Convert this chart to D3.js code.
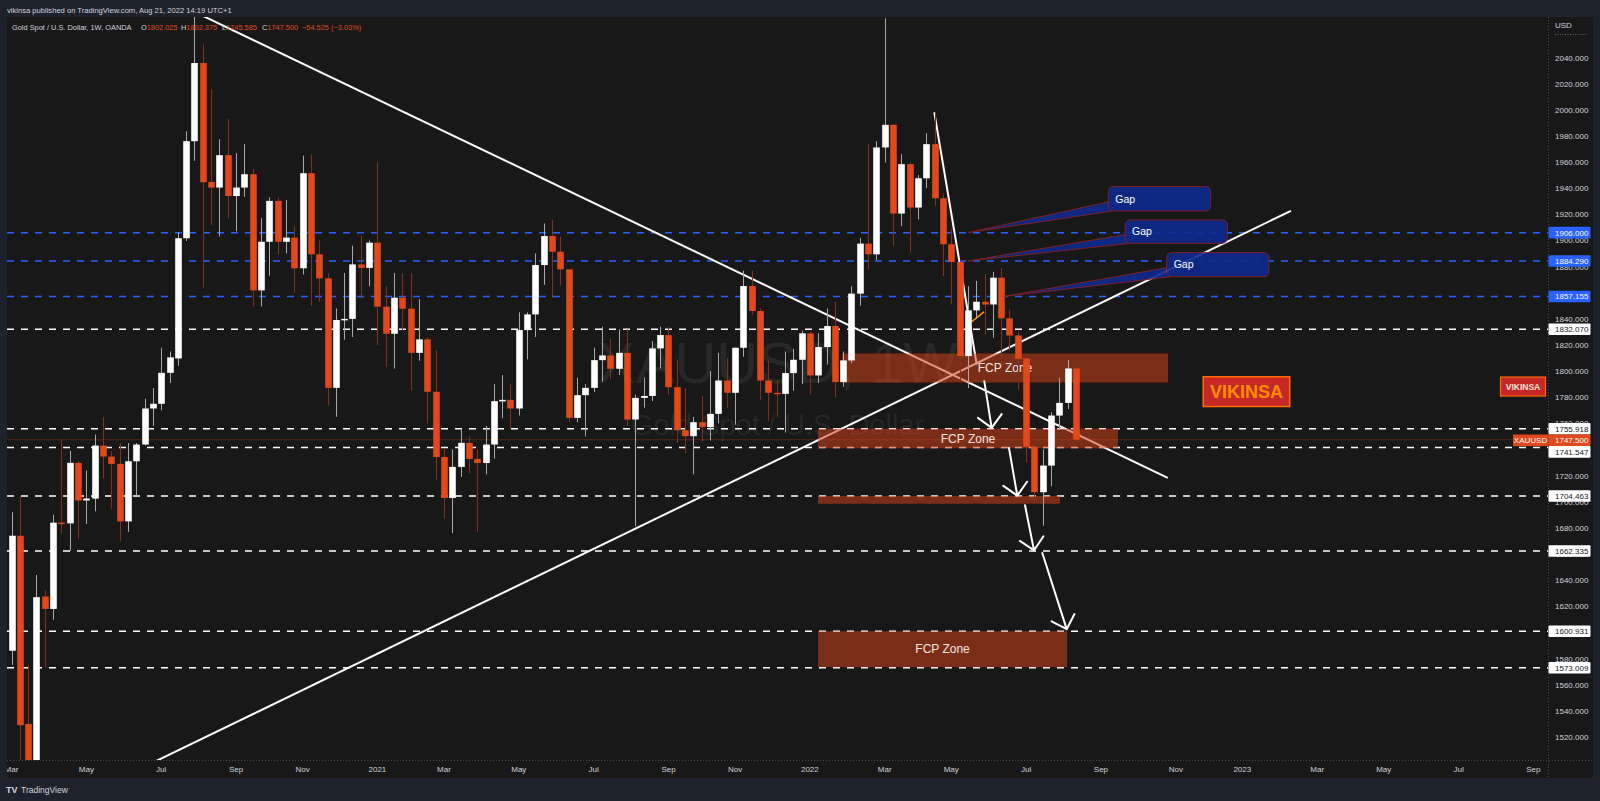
<!DOCTYPE html>
<html><head><meta charset="utf-8">
<script src="https://cdn.jsdelivr.net/npm/d3@7"></script>
<style>
body{margin:0;background:#1e222d;overflow:hidden}
svg{display:block}
text{font-family:"Liberation Sans",Arial,sans-serif}
</style></head>
<body><svg id="c" width="1600" height="801"></svg>
<script>
// ---------- DATA ----------
const startDate = Date.UTC(2020, 2, 2); // first weekly bar (Mon 2 Mar 2020)
const opens = [1586,1674,1530,1498,1627.5,1618,1684,1683.5,1729.8,1701,1702.4,1743,1734.6,1729,1685,1731,1743.8,1771.4,1775,1798.7,
1809.7,1901.7,1976,2035.8,1944.8,1940.5,1965.3,1934,1940.5,1950.7,1861.8,1899,1930.3,1899,1902.2,1878.7,1951.5,1889.4,1871,1787.2,
1839.1,1840,1881.7,1879,1898.3,1849.3,1828.6,1856.2,1847.8,1814,1824.3,1784.2,1734.3,1702.9,1726.7,1745.1,1732.8,1729.7,1743.8,1777,
1778,1771.4,1831.4,1843.4,1881.2,1903.4,1891.4,1877.9,1764.2,1781.6,1787.2,1808.4,1812,1801.8,1814,1763,1779.5,1781,1817.4,1827.6,
1787.7,1754.8,1750.2,1760.9,1757.1,1767.3,1792.8,1783.4,1817.9,1865.1,1846,1792.8,1783.4,1782.6,1798.5,1808.7,1828.9,1796.7,1818.4,1834.5,
1791.6,1808.2,1859.3,1897.6,1889.4,1971.2,1988.5,1920.6,1958.4,1925.2,1947.6,1973.7,1932.3,1897.1,1883.5,1811.5,1846.5,1853.1,1851,1871.5,
1840.4,1827.3,1809.7,1742,1707.3,1727.7,1766,1775.7,1802.025];
const highs = [1692,1704,1575,1644,1632,1690,1747.6,1739,1731,1724,1751.5,1765,1738.7,1745,1745,1745,1779,1787,1818,1815,
1906,1983.7,2075,2050,2015.9,1977.5,1992.9,1966.8,1973.7,1955,1917,1933,1933,1931,1911,1965,1965.5,1900,1875,1848,
1875,1896,1904,1900,1960,1865,1875,1875,1875,1855,1826,1816,1740,1740,1755,1750,1740,1758,1790,1797,
1790,1845,1845,1890,1913,1916,1903,1878,1795,1790,1818,1834,1825,1832,1832,1782,1795,1823,1834,1834,
1809,1787,1765,1781,1800,1814,1810,1818,1877,1877,1848,1808,1793,1815,1817,1831,1830,1829,1848,1853,
1815,1865,1902,1974,1976,2070,1989,1966,1960,1950,1982,1998,1936,1909,1885,1865,1869,1874,1876,1879,
1847,1830,1813,1745.6,1740,1768.5,1795,1808.4,1802.375];
const lows = [1575,1451,1451,1483,1573,1609.7,1675.5,1662.5,1671.7,1683,1692.7,1717.7,1694.7,1670,1677,1704.7,1743,1758,1770,1791,
1804,1899.6,1961,1864,1911.9,1903,1917,1907,1933.3,1849.3,1849.5,1873,1889.4,1890,1860,1874,1850,1853,1774,1765,
1824,1826,1856,1865,1820,1803,1802,1831,1785,1808,1760,1717,1687,1676,1719,1722,1677,1721,1733,1764,
1756,1766,1809,1826,1866,1856,1866,1761,1761,1750,1784,1792,1794,1797,1758,1681.2,1772,1777,1802,1782,
1745,1737,1721,1746,1747,1760,1772,1759,1811,1843,1778,1762,1765,1753,1785,1790,1782,1791,1805,1780,
1788,1806,1850,1878,1885,1959.7,1895.8,1911,1890.7,1916,1940,1926.4,1872.8,1851,1792.3,1787,1840,1828,1825.5,1805,
1816,1786,1730.2,1699,1681.7,1712,1755,1771,1745.585];
const closes = [1674,1529,1498,1627,1618,1684,1683.5,1729.8,1701,1702.5,1743,1734.6,1729,1685,1731,1743.8,1771.4,1775,1798.7,1810.5,
1901.7,1976,2035.8,1944.6,1940.5,1965.3,1934,1940.5,1950.7,1861.8,1899,1930.3,1899,1902.2,1878.7,1951.5,1889.4,1871,1787.2,1839.1,
1840,1881.7,1879,1898.3,1849.3,1828.6,1856.2,1847.8,1814,1824.3,1784.2,1734.3,1702.9,1726.7,1745.1,1732.8,1729.7,1743.8,1777,1778,
1771.4,1831.4,1843.4,1881.2,1903.4,1891.4,1877.9,1764.2,1781.6,1787.2,1808.4,1812,1801.8,1814,1763,1779.5,1781,1817.4,1827.6,1787.7,
1754.8,1750.2,1760.9,1757.1,1767.3,1792.8,1783.4,1817.9,1865.1,1846,1792.8,1783.4,1782.6,1798.5,1808.7,1828.9,1796.7,1818.4,1834.5,1791.6,
1808.2,1859.3,1897.6,1889.4,1971.2,1988.5,1920.6,1958.4,1925.2,1947.6,1973.7,1932.3,1897.1,1883.5,1811.5,1846.5,1853.1,1851,1871.5,1840.4,
1827.3,1809.4,1742,1707.3,1727.7,1766,1775.7,1802.025,1747.5];

const whiteLevels = [1832.070, 1755.918, 1741.547, 1704.463, 1662.335, 1600.931, 1573.009];
const blueLevels  = [1906.000, 1884.290, 1857.155];
const lastPrice = 1747.500;
const priceTicks = d3.range(1520, 2041, 20);
const timeTickDates = ["2020-03-02","2020-05-04","2020-07-06","2020-09-07","2020-11-02","2021-01-04","2021-03-01","2021-05-03","2021-07-05","2021-09-06","2021-11-01",
 "2022-01-03","2022-03-07","2022-05-02","2022-07-04","2022-09-05","2022-11-07","2023-01-02","2023-03-06","2023-05-01","2023-07-03","2023-09-04"];
const timeTickLabels = ["Mar","May","Jul","Sep","Nov","2021","Mar","May","Jul","Sep","Nov","2022","Mar","May","Jul","Sep","Nov","2023","Mar","May","Jul","Sep"];

// drawings, anchored in [week index, price]
const trendLines = [ [[22,2075],[139.03,1718.3]], [[1,1451],[153.85,1922.7]], [[110.96,1998],[116.06,1805.1]] ];
const orangeSeg = [[115.46,1837.8],[116.94,1845.4]];
const arrowLines = [ [[116.97,1792.3],[117.86,1756.6]], [[119.94,1741.3],[120.94,1704.7]], [[121.87,1697.3],[122.95,1662.8]], [[123.95,1660.8],[126.88,1602.5]] ];
const zones = [ {w0:99.87,w1:139.06,p0:1813.5,p1:1791.3,label:"FCP Zone"},
                {w0:96.98,w1:133.05,p0:1755.918,p1:1741.0,label:"FCP Zone"},
                {w0:96.98,w1:126.08,p0:1704.463,p1:1698.5,label:""},
                {w0:96.98,w1:126.93,p0:1600.931,p1:1573.4,label:"FCP Zone"} ];
const gaps = [ {w0:131.88,w1:144.19,p0:1941.3,p1:1922.6,tip:[115.0,1906.0]},
               {w0:133.9,w1:146.2,p0:1915.7,p1:1897.8,tip:[115.0,1884.29]},
               {w0:138.9,w1:151.2,p0:1890.7,p1:1872.3,tip:[119.34,1857.155]} ];
const vikinsaBox = {w0:143.3,w1:153.7,p0:1795.7,p1:1772.9};

// ---------- LAYOUT ----------
const P = {l:7, t:17, r:1548, b:760};
const RED = "#e2491a";
const svg = d3.select("#c");
const WEEK = 7*86400000;
const wDate = w => new Date(startDate + w*WEEK);
const x = d3.scaleTime().domain([wDate(0), wDate(128)]).range([11.5, 1076]);
const y = d3.scaleLinear().domain([1502.36, 2071.04]).range([P.b, P.t]);
const X = w => x(wDate(w));

svg.append("rect").attr("width",1600).attr("height",801).attr("fill","#1e222d");
svg.append("rect").attr("x",P.l).attr("y",P.t).attr("width",1593-P.l).attr("height",778-P.t).attr("fill","#181818");

const defs = svg.append("defs");
defs.append("clipPath").attr("id","pane").append("rect").attr("x",P.l).attr("y",P.t).attr("width",P.r-P.l).attr("height",P.b-P.t);
const pane = svg.append("g").attr("clip-path","url(#pane)");

// watermark
pane.append("text").attr("x",(P.l+P.r)/2).attr("y",383).attr("text-anchor","middle")
  .attr("font-size",58).attr("fill","rgba(255,255,255,0.07)").text("XAUUSD, 1W");
pane.append("text").attr("x",(P.l+P.r)/2).attr("y",435).attr("text-anchor","middle")
  .attr("font-size",29).attr("fill","rgba(255,255,255,0.07)").text("Gold Spot / U.S. Dollar");

// horizontal levels
pane.append("line").attr("x1",P.l).attr("x2",P.r).attr("y1",y(lastPrice)).attr("y2",y(lastPrice))
  .attr("stroke","rgba(226,73,26,0.3)").attr("stroke-width",1);
pane.selectAll(".wl").data(whiteLevels).join("line")
  .attr("x1",P.l).attr("x2",P.r).attr("y1",d=>y(d)).attr("y2",d=>y(d))
  .attr("stroke","#ffffff").attr("stroke-width",1.6).attr("stroke-dasharray","7,7");
pane.selectAll(".bl").data(blueLevels).join("line")
  .attr("x1",P.l).attr("x2",P.r).attr("y1",d=>y(d)).attr("y2",d=>y(d))
  .attr("stroke","#2962ff").attr("stroke-width",1.5).attr("stroke-dasharray","7,7");

// trend lines
pane.selectAll(".tl").data(trendLines).join("line")
  .attr("x1",d=>X(d[0][0])).attr("y1",d=>y(d[0][1])).attr("x2",d=>X(d[1][0])).attr("y2",d=>y(d[1][1]))
  .attr("stroke","#ffffff").attr("stroke-width",2);
pane.append("line").attr("x1",X(orangeSeg[0][0])).attr("y1",y(orangeSeg[0][1]))
  .attr("x2",X(orangeSeg[1][0])).attr("y2",y(orangeSeg[1][1])).attr("stroke","#ff9800").attr("stroke-width",1.5);

// zones
const zg = pane.append("g");
zones.forEach(z=>{
  zg.append("rect").attr("x",X(z.w0)).attr("y",y(z.p0)).attr("width",X(z.w1)-X(z.w0)).attr("height",y(z.p1)-y(z.p0))
    .attr("fill","rgb(205,66,24)").attr("fill-opacity",0.55);
  if(z.label) zg.append("text").attr("x",(X(z.w0)+X(z.w1))/2).attr("y",(y(z.p0)+y(z.p1))/2+4.3)
    .attr("text-anchor","middle").attr("font-size",12).attr("fill","#f3e6e2").text(z.label);
});

// candles
const idx = d3.range(closes.length);
const cg = pane.append("g");
cg.selectAll(".wick").data(idx).join("line")
  .attr("x1",i=>Math.round(X(i))+0.5).attr("x2",i=>Math.round(X(i))+0.5)
  .attr("y1",i=>y(highs[i])).attr("y2",i=>y(lows[i]))
  .attr("stroke",i=>closes[i]>=opens[i]?"#a9a9a9":"#85301a").attr("stroke-width",1);
cg.selectAll(".body").data(idx).join("rect")
  .attr("x",i=>Math.round(X(i))-2.8).attr("width",6.6)
  .attr("y",i=>y(Math.max(opens[i],closes[i])))
  .attr("height",i=>Math.max(1.5, Math.abs(y(opens[i])-y(closes[i]))))
  .attr("fill",i=>closes[i]>=opens[i]?"#ffffff":RED);

// arrows
const ag = pane.append("g").attr("stroke","#ffffff").attr("stroke-width",2).attr("fill","none").attr("stroke-linecap","round");
arrowLines.forEach(a=>{
  const x1=X(a[0][0]), y1=y(a[0][1]), x2=X(a[1][0]), y2=y(a[1][1]);
  const L=Math.hypot(x2-x1,y2-y1), ux=(x1-x2)/L, uy=(y1-y2)/L, h=17, c=Math.cos(Math.PI/4), s=Math.sin(Math.PI/4);
  const w1=[x2+h*(ux*c-uy*s), y2+h*(ux*s+uy*c)], w2=[x2+h*(ux*c+uy*s), y2+h*(-ux*s+uy*c)];
  ag.append("path").attr("d",`M${x1},${y1}L${x2},${y2}M${w1[0]},${w1[1]}L${x2},${y2}L${w2[0]},${w2[1]}`);
});

// gap callouts
gaps.forEach(g=>{
  const bx=X(g.w0), bw=X(g.w1)-bx, by=y(g.p0), bh=y(g.p1)-by, tx=X(g.tip[0]), ty=y(g.tip[1]);
  const grp = pane.append("g").attr("opacity",0.9);
  grp.append("path").attr("d",`M${tx},${ty}L${bx+1},${by+bh*0.62}L${bx+5},${by+bh}Z`)
    .attr("fill","#0c2a8f").attr("stroke","#8e1f24").attr("stroke-width",1);
  grp.append("rect").attr("x",bx).attr("y",by).attr("width",bw).attr("height",bh).attr("rx",5)
    .attr("fill","#0c2a8f").attr("stroke","#8e1f24").attr("stroke-width",1);
  pane.append("text").attr("x",bx+7).attr("y",by+bh/2+3.8).attr("font-size",10.5).attr("fill","#ffffff").text("Gap");
});

// VIKINSA box
{
  const bx=X(vikinsaBox.w0), bw=X(vikinsaBox.w1)-bx, by=y(vikinsaBox.p0), bh=y(vikinsaBox.p1)-by;
  pane.append("rect").attr("x",bx).attr("y",by).attr("width",bw).attr("height",bh)
    .attr("fill","#c62828").attr("stroke","#ff6d00").attr("stroke-width",1.5);
  pane.append("text").attr("x",bx+bw/2).attr("y",by+bh/2+6.5).attr("text-anchor","middle")
    .attr("font-size",18).attr("font-weight","bold").attr("fill","#ff8f00").text("VIKINSA");
}

// ---------- AXES ----------
const axisCol = "#d1d4dc";
svg.append("line").attr("x1",P.r+0.5).attr("x2",P.r+0.5).attr("y1",P.t).attr("y2",778).attr("stroke","#4a4a4a").attr("stroke-dasharray","1,2");
svg.append("line").attr("x1",P.l).attr("x2",1593).attr("y1",P.b+0.5).attr("y2",P.b+0.5).attr("stroke","#4a4a4a").attr("stroke-dasharray","1,2");

// price labels on lines (stacked), computed first so that hidden ticks can be skipped
let labels = whiteLevels.map(v=>({v,type:"w"})).concat(blueLevels.map(v=>({v,type:"b"}))).concat([{v:lastPrice,type:"r"}]);
labels.forEach(l=>l.cy=y(l.v));
labels.sort((a,b)=>a.cy-b.cy);
const LH = 11.6;
for(let k=1;k<labels.length;k++){
  if(labels[k].cy - labels[k-1].cy < LH) labels[k].cy = labels[k-1].cy + LH;
}
// tick labels: draw those not fully covered by a line label (the reference shows partial ones peeking out)
const visibleTicks = priceTicks.filter(t => !labels.some(l => Math.abs(y(t)-l.cy) < 3));
const yAxis = svg.append("g");
yAxis.selectAll("text").data(visibleTicks).join("text")
  .attr("x",1555).attr("y",d=>y(d)+3).attr("font-size",8).attr("fill",axisCol).text(d=>d3.format(".3f")(d));
svg.append("text").attr("x",1555).attr("y",28).attr("font-size",8).attr("fill",axisCol).text("USD");
svg.append("line").attr("x1",1555).attr("x2",1586).attr("y1",34.5).attr("y2",34.5).attr("stroke","#666").attr("stroke-dasharray","1,1.5");

defs.append("clipPath").attr("id","taxis").append("rect").attr("x",P.l).attr("y",P.b).attr("width",P.r-P.l).attr("height",18);
const tAxis = svg.append("g").attr("clip-path","url(#taxis)");
tAxis.selectAll("text").data(timeTickDates).join("text")
  .attr("x",d=>x(new Date(d+"T00:00:00Z"))).attr("y",772).attr("text-anchor","middle")
  .attr("font-size",8).attr("fill",axisCol).text((d,i)=>timeTickLabels[i]);

const fills = {w:"#ffffff", b:"#2962ff", r:RED}, tcol = {w:"#131722", b:"#ffffff", r:"#ffffff"};
labels.forEach(l=>{
  svg.append("rect").attr("x",1548.5).attr("y",l.cy-LH/2).attr("width",42).attr("height",LH)
    .attr("fill",fills[l.type]).attr("rx",1);
  svg.append("text").attr("x",1555).attr("y",l.cy+3).attr("font-size",8).attr("fill",tcol[l.type]).text(d3.format(".3f")(l.v));
  if(l.type==="r"){
    svg.append("rect").attr("x",1513).attr("y",l.cy-LH/2).attr("width",35.5).attr("height",LH).attr("fill",RED);
    svg.append("text").attr("x",1530.5).attr("y",l.cy+3).attr("text-anchor","middle").attr("font-size",8).attr("fill","#ffffff").text("XAUUSD");
  }
});
// VIKINSA axis tag
{
  const cy = y(1788.2);
  svg.append("rect").attr("x",1500.5).attr("y",cy-9.5).attr("width",45).attr("height",19)
    .attr("fill","#c62828").attr("stroke","#ff6d00").attr("stroke-width",1.2);
  svg.append("text").attr("x",1523).attr("y",cy+3.2).attr("text-anchor","middle").attr("font-size",8.5)
    .attr("font-weight","bold").attr("fill","#ffe0da").text("VIKINSA");
}

// ---------- HEADER / LEGEND ----------
svg.append("text").attr("x",7).attr("y",12.5).attr("font-size",7.6).attr("fill",axisCol)
  .text("vikinsa published on TradingView.com, Aug 21, 2022 14:19 UTC+1");
const lg = svg.append("text").attr("y",30).attr("font-size",7.4).attr("fill",axisCol);
lg.append("tspan").attr("x",12).text("Gold Spot / U.S. Dollar, 1W, OANDA");
const ohlc = [["O",opens[128]],["H",highs[128]],["L",lows[128]],["C",closes[128]]];
const lx = [141,181,222,262];
ohlc.forEach((o,k)=>{
  lg.append("tspan").attr("x",lx[k]).text(o[0]);
  lg.append("tspan").attr("fill",RED).text(d3.format(".3f")(o[1]));
});
const chg = closes[128]-closes[127];
lg.append("tspan").attr("x",302).attr("fill",RED)
  .text(`${d3.format(".3f")(chg).replace("-","−")} (${d3.format(".2f")(chg/closes[127]*100).replace("-","−")}%)`);

// footer logo
svg.append("text").attr("x",6).attr("y",793).attr("font-size",9).attr("font-weight","bold").attr("fill",axisCol).text("TV");
svg.append("text").attr("x",21).attr("y",793).attr("font-size",8.5).attr("fill",axisCol).text("TradingView");
</script></body></html>
